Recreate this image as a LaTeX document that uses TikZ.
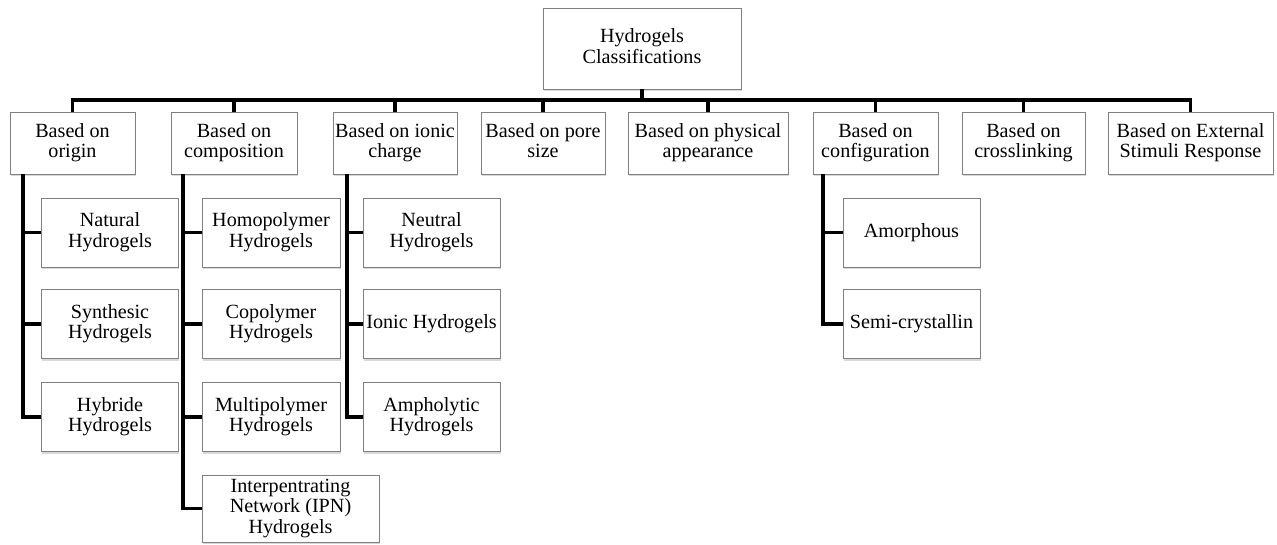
\documentclass[tikz,border=0pt]{standalone}
\usepackage{fontspec}
\setmainfont{Liberation Serif}
\usetikzlibrary{shadows}
\newcommand\hgfont{\fontsize{17.2}{17.6}\selectfont\lineskiplimit-10pt\relax}

\begin{document}
\begin{tikzpicture}[x=0.03cm, y=-0.03cm,
  box/.style={draw=black!50, line width=0.7pt, fill=white, align=center, inner sep=1pt,
    font=\hgfont, text depth=4pt,
    drop shadow={shadow xshift=0.5pt, shadow yshift=-1.8pt, opacity=0.3}},
  top/.style={box, minimum height=1.86cm},
  sub/.style={box, minimum height=2.07cm, minimum width=4.11cm},
  link/.style={line width=3.3pt}]
\useasboundingbox (0,0) rectangle (1277,545);

\node[box, minimum width=5.94cm, minimum height=2.43cm] (root) at (642,48.5) {Hydrogels\\Classifications};

% first level
\foreach \n/\x/\w/\t in {origin/72.5/3.75/{Based on\\origin}, comp/234/3.78/{Based on\\composition},
  ionic/395/3.72/{Based on ionic\\charge}, pore/543/3.72/{Based on pore\\size},
  phys/708/4.8/{Based on physical\\appearance}, config/875.5/3.75/{Based on\\configuration},
  cross/1023.5/3.69/{Based on\\crosslinking}, ext/1190.5/4.95/{Based on External\\Stimuli Response}}
  \node[top, minimum width=\w cm] (\n) at (\x,143) {\t};

% second level
\node[sub] (natural) at (110,232.5) {Natural\\Hydrogels};
\node[sub] (synth) at (110,324) {Synthesic\\Hydrogels};
\node[sub] (hybride) at (110,417) {Hybride\\Hydrogels};
\node[sub, minimum width=4.14cm] (homo) at (271,232.5) {Homopolymer\\Hydrogels};
\node[sub, minimum width=4.14cm] (copo) at (271,324) {Copolymer\\Hydrogels};
\node[sub, minimum width=4.14cm] (multi) at (271,417) {Multipolymer\\Hydrogels};
\node[sub, minimum width=5.31cm, minimum height=2.01cm] (ipn) at (290.5,508.5) {Interpentrating\\Network (IPN)\\Hydrogels};
\node[sub] (neutral) at (431.5,232.5) {Neutral\\Hydrogels};
\node[sub] (ionich) at (431.5,324) {Ionic Hydrogels};
\node[sub] (ampho) at (431.5,417) {Ampholytic\\Hydrogels};
\node[sub] (amorph) at (911.5,232.5) {Amorphous};
\node[sub] (semi) at (911.5,324) {Semi-crystallin};

% bus
\coordinate (bus) at (0,100);
\draw[link] (root.south) -- (root.south |- bus);
\draw[link] (origin.north) -- (origin.north |- bus) -- (ext.north |- bus) -- (ext.north);
\foreach \n in {comp,ionic,pore,phys,config,cross}
  \draw[link] (\n.north) -- (\n.north |- bus);

% spines
\coordinate (sp1) at ([xshift=0.39cm]origin.south west);
\coordinate (sp2) at ([xshift=0.36cm]comp.south west);
\coordinate (sp3) at ([xshift=0.42cm]ionic.south west);
\coordinate (sp4) at ([xshift=0.3cm]config.south west);
\draw[link] (sp1) |- (hybride.west);
\foreach \n in {natural,synth} \draw[link] (\n.west) -- (\n.west -| sp1);
\draw[link] (sp2) |- (ipn.west);
\foreach \n in {homo,copo,multi} \draw[link] (\n.west) -- (\n.west -| sp2);
\draw[link] (sp3) |- (ampho.west);
\foreach \n in {neutral,ionich} \draw[link] (\n.west) -- (\n.west -| sp3);
\draw[link] (sp4) |- (semi.west);
\draw[link] (amorph.west) -- (amorph.west -| sp4);
\end{tikzpicture}
\end{document}
